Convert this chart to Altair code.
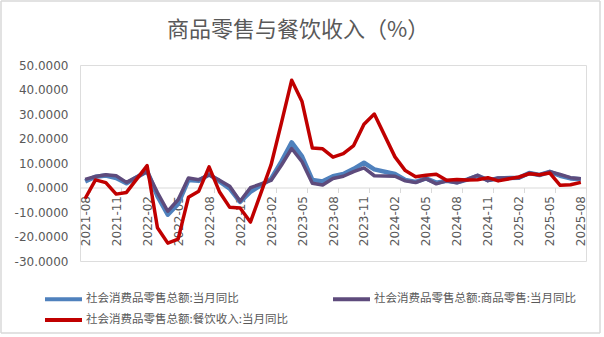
import altair as alt
import pandas as pd

# ---- data (monthly YoY %, Jan values not published -> None) ----
months = []
for y, start, end in [(2021, 8, 12), (2022, 1, 12), (2023, 1, 12), (2024, 1, 12), (2025, 1, 8)]:
    for m in range(start, end + 1):
        months.append(f"{y}-{m:02d}")

total = [2.5, 4.4, 4.9, 3.9, 1.7,
         None, 6.7, -3.5, -11.1, -6.7, 3.1, 2.7, 5.4, 2.5, -0.5, -5.9, -1.8,
         None, 3.5, 10.6, 18.4, 12.7, 3.1, 2.5, 4.6, 5.5, 7.6, 10.1, 7.4,
         None, 5.5, 3.1, 2.3, 3.7, 2.0, 2.7, 2.1, 3.2, 4.8, 3.0, 3.7,
         None, 4.0, 5.9, 5.1, 6.4, 4.8, 3.7, 3.4]

goods = [3.3, 4.5, 5.2, 4.8, 2.1,
         None, 6.5, -2.1, -9.7, -5.0, 3.9, 3.2, 5.1, 3.0, 0.5, -5.6, -0.1,
         None, 2.9, 9.1, 15.9, 10.5, 1.7, 1.0, 3.7, 4.6, 6.5, 8.0, 4.8,
         None, 4.6, 2.7, 2.0, 3.6, 1.5, 2.7, 1.9, 3.3, 5.0, 2.8, 3.9,
         None, 3.9, 5.9, 5.1, 6.5, 5.3, 4.0, 3.6]

catering = [-4.5, 3.1, 2.0, -2.7, -2.0,
            None, 8.9, -16.4, -22.7, -21.1, -4.0, -1.5, 8.4, -1.7, -8.1, -8.4, -14.1,
            None, 9.2, 26.3, 43.8, 35.1, 16.1, 15.8, 12.4, 13.8, 17.1, 25.8, 30.0,
            None, 12.5, 6.9, 4.4, 5.0, 5.4, 3.0, 3.3, 3.1, 3.2, 4.0, 2.7,
            None, 4.3, 5.6, 5.2, 5.9, 0.9, 1.1, 2.1]

names = ["社会消费品零售总额:当月同比",
         "社会消费品零售总额:商品零售:当月同比",
         "社会消费品零售总额:餐饮收入:当月同比"]
colors = ["#4F81BD", "#5E4B7C", "#C00000"]
widths = [4.5, 3.5, 3.5]
y_ticks = [-30, -20, -10, 0, 10, 20, 30, 40, 50]
x_ticks = months[::3]
title_text = "商品零售与餐饮收入（%）"

rows = []
for name, vals in zip(names, [total, goods, catering]):
    for m, v in zip(months, vals):
        if v is not None:
            rows.append({"month": m, "series": name, "value": v})
df = pd.DataFrame(rows)

W, H = 506, 196
GRAY = "#595959"
FRAME = "#D9D9D9"
CJK = "Noto Sans CJK SC"
NUM = "DejaVu Sans"

x_enc = alt.X(
    "month:O",
    bandPosition=0.5,
    scale=alt.Scale(type="band", domain=months, paddingInner=0, paddingOuter=0),
    axis=alt.Axis(
        values=x_ticks, labelAngle=-90, offset=-H * 30 / 80, tickBand="extent",
        domainColor=FRAME, tickColor=FRAME, tickSize=5, labelPadding=3,
        labelFont=NUM, labelFontSize=12, labelColor=GRAY, grid=False, title=None,
    ),
)
y_enc = alt.Y(
    "value:Q",
    scale=alt.Scale(domain=[-30, 50], nice=False, zero=False),
    axis=alt.Axis(
        values=y_ticks, labelExpr="replace(format(datum.value, '.4f'), '\u2212', '-')",
        domain=False, ticks=False, grid=False, labelPadding=12,
        labelFont=NUM, labelFontSize=12, labelColor=GRAY, title=None,
    ),
)
color_enc = alt.Color(
    "series:N",
    scale=alt.Scale(domain=names, range=colors),
    legend=alt.Legend(
        orient="none", direction="horizontal", legendX=-28, legendY=222.5,
        columns=2, columnPadding=37, rowPadding=1, values=names,
        symbolType="M-2,0H2", symbolStrokeWidth=4, symbolSize=342,
        labelOffset=11, labelFont=CJK, labelFontSize=11.5, labelColor=GRAY,
        labelLimit=0, title=None,
    ),
)

one = pd.DataFrame({"k": [0]})
frame_layers = [
    alt.Chart(one).mark_rule(color=FRAME, strokeWidth=1.5).encode(
        x=alt.value(-79), x2=alt.value(W + 14), y=alt.value(-64)),
    alt.Chart(one).mark_rule(color=FRAME, strokeWidth=1.5).encode(
        x=alt.value(-79), x2=alt.value(W + 14), y=alt.value(H + 72)),
    alt.Chart(one).mark_rule(color=FRAME, strokeWidth=1.5).encode(
        x=alt.value(-79), y=alt.value(-64), y2=alt.value(H + 72)),
    alt.Chart(one).mark_rule(color=FRAME, strokeWidth=1.5).encode(
        x=alt.value(W + 14), y=alt.value(-64), y2=alt.value(H + 72)),
]

title = alt.Chart(one).mark_text(
    font=CJK, fontSize=22, color=GRAY, align="center", baseline="middle"
).encode(x=alt.value(W / 2 - 35), y=alt.value(-35), text=alt.value(title_text))

layers = frame_layers + [title]
for name, w in zip(names, widths):
    layers.append(
        alt.Chart(df).transform_filter(alt.datum.series == name)
        .mark_line(strokeWidth=w, strokeJoin="round")
        .encode(x=x_enc, y=y_enc, color=color_enc)
    )

chart = alt.layer(*layers).properties(
    width=W, height=H,
    autosize=alt.AutoSizeParams(type="none"),
    padding={"left": 80, "top": 65, "right": 18, "bottom": 76},
).configure_view(stroke=None).configure(background="white")

chart.save("out.html", embed_options={"renderer": "svg", "actions": False})
